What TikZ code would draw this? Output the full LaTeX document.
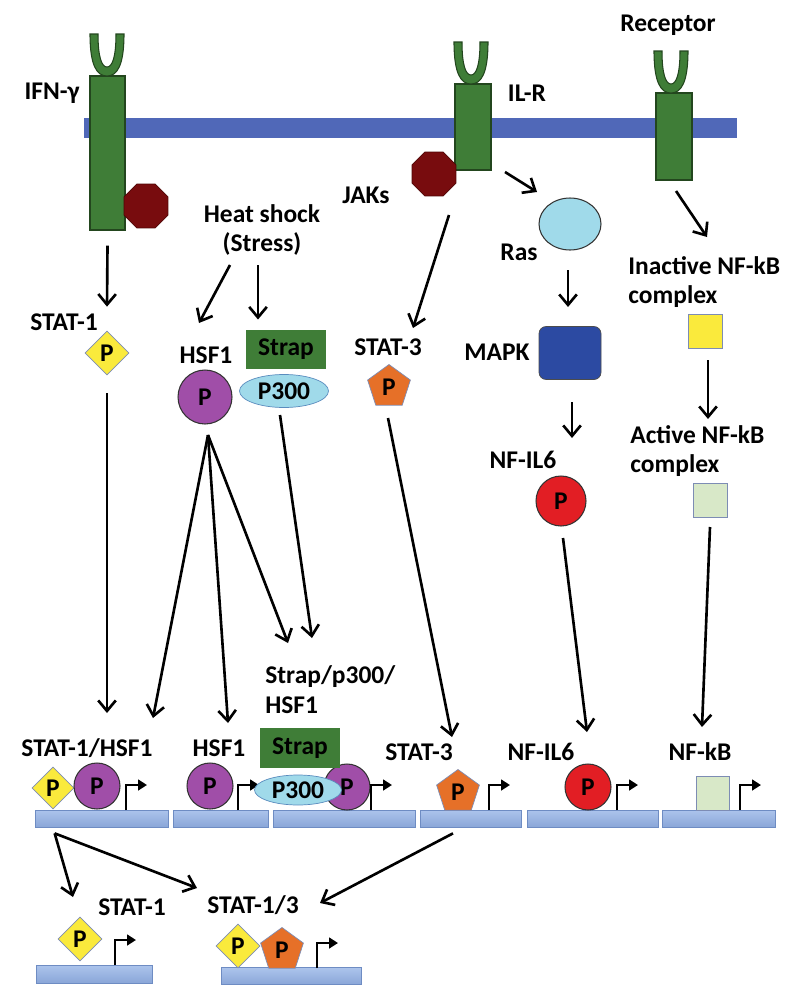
\documentclass[tikz,border=0pt]{standalone}
\usepackage{fontspec}
\setmainfont{Carlito}
\usetikzlibrary{arrows.meta, positioning, calc, shapes.geometric}

\definecolor{membrane}{RGB}{80,104,184}
\definecolor{recgreen}{RGB}{63,125,55}
\definecolor{recedge}{RGB}{35,70,30}
\definecolor{jakred}{RGB}{120,12,14}
\definecolor{jakedge}{RGB}{80,5,5}
\definecolor{rasblue}{RGB}{160,218,234}
\definecolor{mapkblue}{RGB}{44,74,162}
\definecolor{nfred}{RGB}{226,30,36}
\definecolor{statyellow}{RGB}{250,234,60}
\definecolor{statorange}{RGB}{230,112,40}
\definecolor{hsfpurple}{RGB}{160,78,168}
\definecolor{greyblue}{RGB}{125,140,180}
\definecolor{p300edge}{RGB}{90,140,190}
\definecolor{nfgreen}{RGB}{216,232,200}
\definecolor{dnatop}{RGB}{172,196,236}
\definecolor{dnabot}{RGB}{138,166,216}
\definecolor{dnaedge}{RGB}{110,140,195}

\begin{document}
\begin{tikzpicture}[x=0.02cm, y=-0.02cm,
  every node/.style={font=\bfseries\fontsize{14.5}{17}\selectfont, inner sep=0pt},
  lab/.style={align=center},
  labl/.style={align=left, anchor=west},
  rec/.style={draw=recedge, fill=recgreen, line width=0.6pt},
  jak/.style={regular polygon, regular polygon sides=8, minimum size=0.95cm, fill=jakred, draw=jakedge},
  phos/.style={circle, draw=black!80, line width=0.6pt, fill=hsfpurple, minimum size=0.92cm},
  stat1p/.style={diamond, aspect=1, minimum size=0.88cm, fill=statyellow, draw=greyblue},
  stat3p/.style={regular polygon, regular polygon sides=5, minimum size=0.9cm, fill=statorange, draw=greyblue},
  strapbox/.style={fill=recgreen, minimum width=1.6cm, minimum height=0.78cm},
  p300/.style={ellipse, fill=rasblue, draw=p300edge, minimum width=1.78cm, minimum height=0.66cm},
  nfsq/.style={draw=greyblue, minimum size=0.68cm},
  dna/.style={draw=dnaedge, top color=dnatop, bottom color=dnabot, minimum height=0.34cm},
  arr/.style={-{Straight Barb[length=6pt,width=10pt]}, line width=1.5pt},
  prom/.style={-{Triangle[length=5pt,width=6pt]}, line width=1.4pt},
  ycup/.pic={\path[fill=recgreen, draw=recedge, line width=0.6pt]
    (-17,-42) .. controls (-17,-10) and (-10,0) .. (0,0) .. controls (10,0) and (17,-10) .. (17,-42)
    -- (9,-42) .. controls (9,-18) and (5,-9) .. (0,-9) .. controls (-5,-9) and (-9,-18) .. (-9,-42) -- cycle;},
  tss/.pic={\draw[prom] (0,0) -- (0,-25) -- (21,-25);}
]
  \useasboundingbox (0,0) rectangle (800,1001);

  % membrane and receptors
  \node[fill=membrane, minimum width=13.06cm, minimum height=0.4cm] (mem) at (410.5,128) {};
  \node[rec, minimum width=0.7cm, minimum height=3.08cm] (ifn) at (107.5,153) {};
  \pic at (107,76) {ycup};
  \node[rec, minimum width=0.72cm, minimum height=1.72cm] (ilr) at (473,127) {};
  \pic at (471,84) {ycup};
  \node[rec, minimum width=0.72cm, minimum height=1.74cm] (rec3) at (674,136.5) {};
  \pic at (671,93) {ycup};
  \node[jak] (jak1) at (146,206) {};
  \node[jak] (jak2) at (434,174) {};

  \node (ifnl) at (52,93) {IFN-γ};
  \node (ilrl) at (527,93) {IL-R};
  \node (recl) at (668,25) {Receptor};
  \node (jakl) at (366,195) {JAKs};
  \node[lab] (heat) at (262,230) {Heat shock\\(Stress)};

  % middle row
  \node (stat1l) at (64,322) {STAT-1};
  \node[stat1p] (stat1) at (107,353) {P};
  \node (hsf1l) at (206,355) {HSF1};
  \node[phos, minimum size=1.08cm] (hsf1) at (205,397) {P};
  \node[strapbox] (strap) at (286,349.5) {Strap};
  \node[p300] (p300) at (284,391) {P300};
  \node (stat3l) at (388,347) {STAT-3};
  \node[stat3p] (stat3) at (389,387) {P};
  \node[ellipse, fill=rasblue, draw=black!80, line width=0.6pt, minimum width=1.24cm, minimum height=1.04cm] (ras) at (570,224) {};
  \node (rasl) at (519,252) {Ras};
  \node[fill=mapkblue, draw=black!70, rounded corners=4pt, minimum width=1.24cm, minimum height=1.06cm] (mapk) at (570,353) {};
  \node (mapkl) at (497,352) {MAPK};
  \node (nfil6l) at (523,460) {NF-IL6};
  \node[phos, fill=nfred, minimum size=1.0cm] (nfil6) at (561,501) {P};
  \node[labl] (inact) at (628,282) {Inactive NF-kB\\complex};
  \node[nfsq, fill=statyellow] (nfy) at (705,331) {};
  \node[labl] (act) at (630,451) {Active NF-kB\\complex};
  \node[nfsq, fill=nfgreen] (nfg) at (710,500) {};
  \node[labl] (sphl) at (265,690) {Strap/p300/\\HSF1};

  % promoter row
  \node (s1hl) at (87,748) {STAT-1/HSF1};
  \node (hsf1bl) at (219,748) {HSF1};
  \node (stat3bl) at (419,752) {STAT-3};
  \node (nfil6bl) at (541,752) {NF-IL6};
  \node (nfkbl) at (700,752) {NF-kB};

  \node[dna, minimum width=2.66cm] (b1) at (101.5,818.5) {};
  \node[dna, minimum width=1.9cm] (b2) at (220.5,818.5) {};
  \node[dna, minimum width=2.84cm] (b3) at (344,818.5) {};
  \node[dna, minimum width=2.02cm] (b4) at (470.5,818.5) {};
  \node[dna, minimum width=2.62cm] (b5) at (592.5,818.5) {};
  \node[dna, minimum width=2.26cm] (b6) at (718.5,818.5) {};

  \node[stat1p, minimum size=0.84cm] (m1d) at (53,788) {P};
  \node[phos] (m1c) at (97,786) {P};
  \pic at (126,810) {tss};
  \node[phos] (m2c) at (210,786) {P};
  \pic at (238,810) {tss};
  \node[phos] (m3c) at (347,787) {P};
  \node[p300, minimum width=1.74cm, minimum height=0.6cm] (m3e) at (298,790) {P300};
  \node[strapbox, minimum height=0.8cm] (m3s) at (300,748) {Strap};
  \pic at (371,810) {tss};
  \node[stat3p] (m4p) at (458,792) {P};
  \pic at (489,810) {tss};
  \node[phos, fill=nfred] (m5c) at (588,787) {P};
  \pic at (617,810) {tss};
  \node[nfsq, fill=nfgreen, minimum width=0.66cm] (m6s) at (713,793) {};
  \pic at (740,810) {tss};

  % bottom row
  \node (stat1cl) at (132,907) {STAT-1};
  \node (stat13l) at (253,905) {STAT-1/3};
  \node[dna, minimum width=2.32cm, minimum height=0.36cm] (bA) at (94,974) {};
  \node[dna, minimum width=2.8cm] (bB) at (291,976) {};
  \node[stat1p] (mAd) at (80,939) {P};
  \pic at (115,965) {tss};
  \node[stat1p] (mBd) at (238,946) {P};
  \node[stat3p] (mBp) at (282,950) {P};
  \pic at (317,968) {tss};

  % arrows
  \draw[arr] ($(ifn.south)+(0,15)$) -- ($(stat1.north)+(0,-24)$);
  \draw[arr] ($(heat)+(-32,35)$) -- ($(hsf1l)+(-7,-32)$);
  \draw[arr] ($(heat)+(-4,35)$) -- ($(strap)+(-28,-30)$);
  \draw[arr] ($(jak2)+(15,41)$) -- ($(stat3l)+(25,-19)$);
  \draw[arr] ($(ilr)+(32,45)$) -- ($(ras)+(-33,-32)$);
  \draw[arr] ($(rec3)+(2,54.5)$) -- ($(inact.west)+(79,-45)$);
  \draw[arr] ($(ras)+(-2,46)$) -- ($(mapk)+(-2,-46)$);
  \draw[arr] ($(mapk)+(2,49)$) -- ($(nfil6)+(11,-63)$);
  \draw[arr] ($(nfy)+(3,29)$) -- ($(nfg)+(-2,-81)$);
  \draw[arr] ($(stat1)+(0,40)$) -- ($(s1hl)+(20,-35)$);
  \draw[arr] ($(hsf1)+(3,38)$) -- ($(s1hl)+(66,-30)$);
  \draw[arr] ($(hsf1)+(3,38)$) -- ($(hsf1bl)+(9,-25)$);
  \draw[arr] ($(hsf1)+(3,38)$) -- ($(sphl.west)+(23,-47)$);
  \draw[arr] ($(p300)+(-4,24)$) -- ($(sphl.west)+(47,-52)$);
  \draw[arr] ($(stat3)+(-1,31)$) -- ($(stat3bl)+(33,-15)$);
  \draw[arr] ($(nfil6)+(2,37)$) -- ($(nfil6bl)+(46,-20)$);
  \draw[arr] ($(nfg)+(0,27)$) -- ($(nfkbl)+(2,-25)$);
  \draw[arr] ($(b1.south west)+(20,6)$) -- ($(mAd)+(-7,-42)$);
  \draw[arr] ($(b1.south west)+(20,6)$) -- ($(stat13l)+(-56,-17)$);
  \draw[arr] ($(b4.south)+(-17.5,6)$) -- ($(stat13l)+(67,-2)$);
\end{tikzpicture}
\end{document}
